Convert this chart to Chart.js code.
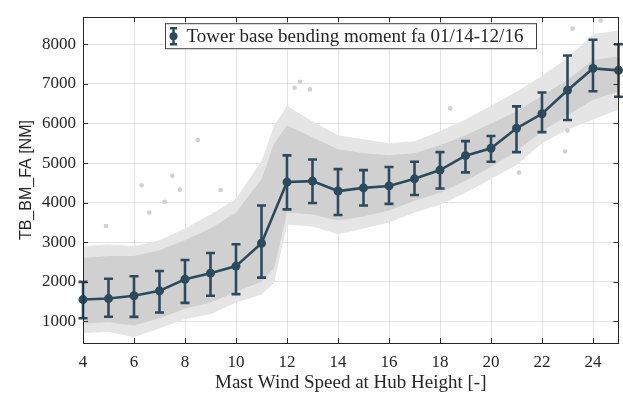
<!DOCTYPE html>
<html>
<head>
<meta charset="utf-8">
<script src="https://cdn.jsdelivr.net/npm/chart.js@4.4.0/dist/chart.umd.min.js"></script>
<style>
  html, body { margin: 0; padding: 0; background: #fff; }
</style>
</head>
<body>
<canvas id="myChart" width="623" height="396"></canvas>
<script>
// binned means with +/- spread
const windSpeeds  = [4, 5, 6, 7, 8, 9, 10, 11, 12, 13, 14, 15, 16, 17, 18, 19, 20, 21, 22, 23, 24, 25];
const meanMoment  = [1553, 1578, 1650, 1773, 2065, 2220, 2398, 2976, 4520, 4544, 4293, 4373, 4422, 4602, 4822, 5187, 5374, 5878, 6244, 6837, 7390, 7341];
const upperMoment = [2000, 2080, 2140, 2276, 2553, 2730, 2951, 3927, 5195, 5090, 4846, 4822, 4902, 5032, 5276, 5553, 5683, 6431, 6780, 7715, 8114, 8000];
const lowerMoment = [1080, 1120, 1115, 1227, 1470, 1650, 1690, 2106, 3830, 3992, 3690, 3927, 3968, 4195, 4358, 4764, 5032, 5276, 5780, 6089, 6812, 6675];

// outline of the grey cloud of raw samples: outer fringe and dense core
const cloudSpeeds = [4, 5, 6, 7, 8, 9, 10, 11, 11.5, 12, 13, 14, 15, 16, 17, 18, 19, 20, 21, 22, 23, 24, 25];
const cloudHigh   = [2900, 2950, 2900, 3050, 3350, 3700, 4100, 5050, 5950, 6450, 6050, 5700, 5600, 5500, 5550, 5800, 6100, 6450, 6800, 7200, 7650, 8250, 8350];
const cloudLow    = [700, 740, 600, 830, 1060, 1180, 1480, 1680, 1980, 3450, 3400, 3200, 3350, 3500, 3750, 3950, 4250, 4600, 4950, 5500, 5850, 6100, 6350];
const coreHigh    = [2600, 2650, 2650, 2800, 3050, 3350, 3750, 4600, 5500, 5950, 5650, 5350, 5250, 5200, 5250, 5450, 5700, 6000, 6300, 6700, 7100, 7600, 7700];
const coreLow     = [950, 980, 900, 1080, 1320, 1480, 1750, 2000, 2350, 3750, 3700, 3550, 3650, 3800, 4050, 4250, 4550, 4900, 5300, 5800, 6200, 6600, 6800];

// a few stray samples outside the cloud
const strayX = [4.9, 6.3, 6.6, 7.2, 7.5, 7.8, 8.5, 9.4, 12.3, 12.5, 12.9, 18.4, 21.1, 22.9, 23.0, 23.2, 24.3];
const strayY = [3410, 4440, 3750, 4020, 4680, 4330, 5580, 4320, 6900, 7050, 6860, 6380, 4760, 5290, 5820, 8400, 8600];

const xTicks = [4, 6, 8, 10, 12, 14, 16, 18, 20, 22, 24];
const yTicks = [1000, 2000, 3000, 4000, 5000, 6000, 7000, 8000];

const legendLabel = 'Tower base bending moment fa 01/14-12/16';
const barColor = 'rgb(44, 74, 94)';
const fringeColor = 'rgb(229, 229, 229)';
const coreColor = 'rgb(208, 208, 208)';
const textColor = '#262626';

const pts = (xs, ys) => xs.map((v, i) => ({ x: v, y: ys[i] }));

const errorBars = {
  id: 'errorBars',
  afterDatasetsDraw(chart) {
    const { ctx, scales: { x, y } } = chart;
    ctx.save();
    ctx.strokeStyle = barColor;
    ctx.lineWidth = 2.6;
    windSpeeds.forEach((s, i) => {
      const px = x.getPixelForValue(s);
      const top = y.getPixelForValue(upperMoment[i]);
      const bot = y.getPixelForValue(lowerMoment[i]);
      ctx.beginPath();
      ctx.moveTo(px, top); ctx.lineTo(px, bot);
      ctx.moveTo(px - 4.5, top); ctx.lineTo(px + 4.5, top);
      ctx.moveTo(px - 4.5, bot); ctx.lineTo(px + 4.5, bot);
      ctx.stroke();
    });
    ctx.restore();
  }
};

// matlab style box with inward ticks + legend box
const boxAndLegend = {
  id: 'boxAndLegend',
  afterDraw(chart) {
    const { ctx, chartArea: a, scales: { x, y } } = chart;
    ctx.save();
    ctx.strokeStyle = textColor;
    ctx.lineWidth = 1;
    ctx.beginPath();
    xTicks.forEach(v => {
      const px = Math.round(x.getPixelForValue(v)) + 0.5;
      ctx.moveTo(px, a.bottom); ctx.lineTo(px, a.bottom - 5);
      ctx.moveTo(px, a.top); ctx.lineTo(px, a.top + 5);
    });
    yTicks.forEach(v => {
      const py = Math.round(y.getPixelForValue(v)) + 0.5;
      ctx.moveTo(a.left, py); ctx.lineTo(a.left + 5, py);
      ctx.moveTo(a.right, py); ctx.lineTo(a.right - 5, py);
    });
    ctx.stroke();
    ctx.strokeRect(Math.round(a.left) + 0.5, Math.round(a.top) + 0.5,
      Math.round(a.right - a.left) - 1, Math.round(a.bottom - a.top));

    // legend
    const lx = a.left + 82.5, ly = a.top + 6.5, lw = 371, lh = 25;
    ctx.fillStyle = '#fff';
    ctx.fillRect(lx, ly, lw, lh);
    ctx.strokeStyle = '#404040';
    ctx.strokeRect(lx, ly, lw, lh);
    const ix = lx + 8, iy = ly + lh / 2;
    ctx.strokeStyle = barColor;
    ctx.fillStyle = barColor;
    ctx.lineWidth = 2.5;
    ctx.beginPath();
    ctx.moveTo(ix, iy - 8); ctx.lineTo(ix, iy + 8);
    ctx.moveTo(ix - 3.5, iy - 8); ctx.lineTo(ix + 3.5, iy - 8);
    ctx.moveTo(ix - 3.5, iy + 8); ctx.lineTo(ix + 3.5, iy + 8);
    ctx.stroke();
    ctx.beginPath();
    ctx.arc(ix, iy, 4, 0, Math.PI * 2);
    ctx.fill();
    ctx.fillStyle = textColor;
    ctx.font = '19px "Liberation Serif"';
    ctx.textBaseline = 'middle';
    ctx.fillText(legendLabel, lx + 21, iy + 1);
    ctx.restore();
  }
};

const myChart = document.getElementById('myChart');

let scatterChart = new Chart(myChart, {
  type: 'line',
  data: {
    datasets: [
      { data: pts(cloudSpeeds, cloudLow), borderWidth: 0, pointRadius: 0, fill: false, order: 5 },
      { data: pts(cloudSpeeds, cloudHigh), borderWidth: 0, pointRadius: 0, backgroundColor: fringeColor, fill: '-1', order: 4 },
      { data: pts(cloudSpeeds, coreLow), borderWidth: 0, pointRadius: 0, fill: false, order: 3 },
      { data: pts(cloudSpeeds, coreHigh), borderWidth: 0, pointRadius: 0, backgroundColor: coreColor, fill: '-1', order: 2 },
      {
        type: 'scatter',
        data: pts(strayX, strayY),
        pointRadius: 2.3,
        pointBackgroundColor: coreColor,
        pointBorderWidth: 0,
        order: 1
      },
      {
        label: legendLabel,
        data: pts(windSpeeds, meanMoment),
        borderColor: barColor,
        backgroundColor: barColor,
        borderWidth: 2.6,
        pointRadius: 4.5,
        pointBackgroundColor: barColor,
        pointBorderWidth: 0,
        fill: false,
        clip: false,
        order: 0
      }
    ]
  },
  options: {
    responsive: false,
    animation: false,
    layout: { padding: { top: 6, right: 3, left: 0, bottom: 0 } },
    plugins: {
      legend: { display: false },
      tooltip: { enabled: false }
    },
    scales: {
      x: {
        type: 'linear',
        min: 4,
        max: 25,
        afterBuildTicks: s => { s.ticks = xTicks.map(v => ({ value: v })); },
        afterFit: s => { s.height = 53; },
        grid: { color: 'rgba(0,0,0,0.11)', drawTicks: false },
        border: { display: false },
        ticks: {
          padding: 9,
          color: textColor,
          callback: v => v,
          font: { family: 'Liberation Serif', size: 17 }
        },
        title: {
          display: true,
          text: 'Mast Wind Speed at Hub Height [-]',
          color: textColor,
          font: { family: 'Liberation Serif', size: 19 },
          padding: { top: 0, bottom: 2 }
        }
      },
      y: {
        min: 456,
        max: 8683,
        afterBuildTicks: s => { s.ticks = yTicks.map(v => ({ value: v })); },
        afterFit: s => { s.width = 83; },
        grid: { color: 'rgba(0,0,0,0.11)', drawTicks: false },
        border: { display: false },
        ticks: {
          padding: 7,
          color: textColor,
          callback: v => v,
          font: { family: 'Liberation Serif', size: 17 }
        },
        title: {
          display: true,
          text: 'TB_BM_FA [NM]',
          color: textColor,
          font: { family: 'Liberation Sans', size: 16 },
          padding: { top: 17, bottom: 0 }
        }
      }
    }
  },
  plugins: [errorBars, boxAndLegend]
});
</script>
</body>
</html>
